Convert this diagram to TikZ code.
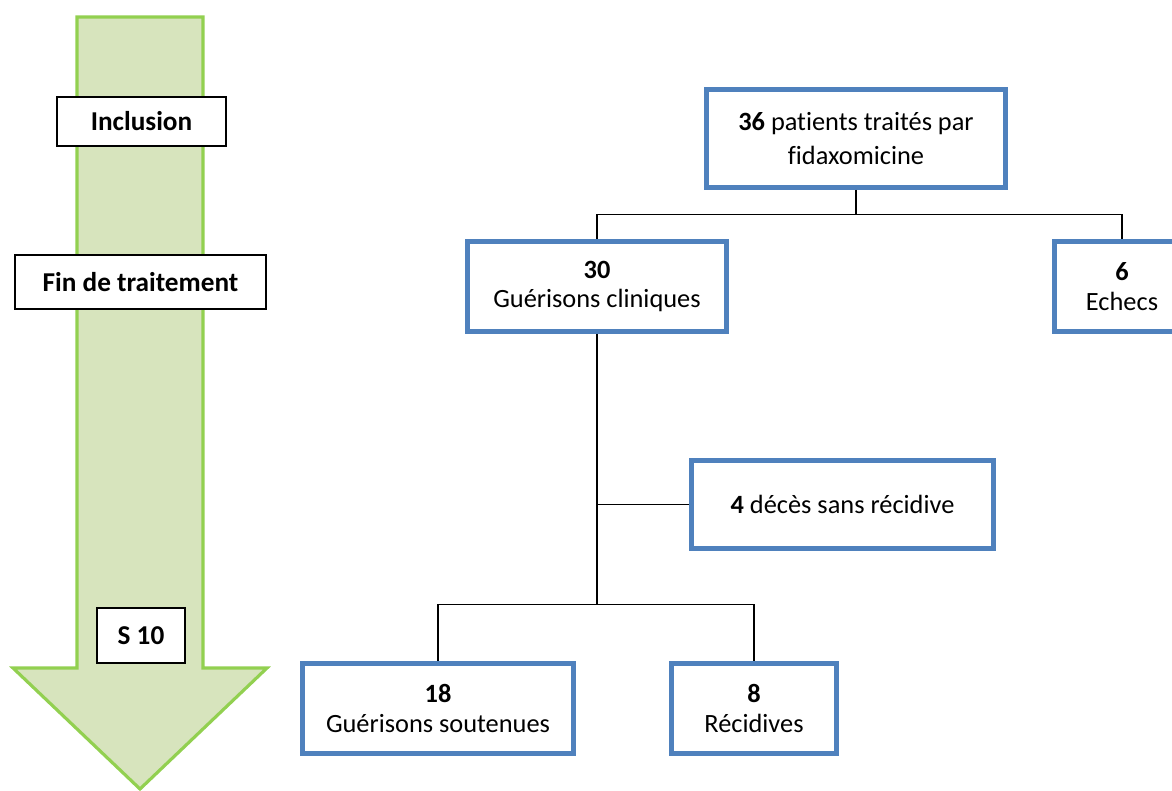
\documentclass[tikz,border=0pt]{standalone}
\usepackage{fontspec}
\setmainfont{Carlito}[Ligatures=NoCommon]
\usepackage{tikz}
\usetikzlibrary{positioning, calc}
\definecolor{boxblue}{RGB}{79,129,189}
\definecolor{arrgreen}{RGB}{146,208,80}
\definecolor{arrfill}{RGB}{215,228,189}
\tikzset{
  resbox/.style={rectangle, draw=boxblue, fill=white, line width=2.8pt,
    align=center, font=\fontsize{15}{17}\selectfont},
  timebox/.style={rectangle, draw=black, fill=white, line width=0.6pt,
    align=center, font=\fontsize{15.5}{17}\selectfont\bfseries},
  line/.style={line width=0.6pt, color=black}
}
\begin{document}
\begin{tikzpicture}
  \useasboundingbox (0,0) rectangle (23.44,15.82);
  % time arrow
  \draw[draw=arrgreen, fill=arrfill, line width=1.8pt, line join=miter]
    (1.54,15.48) -- (4.06,15.48) -- (4.06,2.46) -- (5.34,2.46) -- (2.80,0.04)
    -- (0.26,2.46) -- (1.54,2.46) -- cycle;
  \node[timebox, minimum width=3.38cm, minimum height=0.98cm] (incl) at (2.83,13.39) {Inclusion};
  \node[timebox, minimum width=5.02cm, minimum height=1.08cm] (fin) at (2.81,10.18) {Fin de traitement};
  \node[timebox, minimum width=1.76cm, minimum height=1.10cm] (s10) at (2.82,3.11) {S 10};

  % flow chart
  \node[resbox, minimum width=5.98cm, minimum height=1.96cm] (tot) at (17.12,13.05)
    {\textbf{36} patients traités par\\[2pt]fidaxomicine};
  \node[resbox, minimum width=5.18cm, minimum height=1.80cm] (cur) at (11.94,10.09)
    {\textbf{30}\\Guérisons cliniques};
  \node[resbox, minimum width=2.70cm, minimum height=1.80cm] (ech) at (22.44,10.09)
    {\textbf{6}\\Echecs};
  \node[resbox, minimum width=6.04cm, minimum height=1.76cm] (dec) at (16.85,5.73)
    {\textbf{4} décès sans récidive};
  \node[resbox, minimum width=5.42cm, minimum height=1.80cm] (sout) at (8.76,1.65)
    {\textbf{18}\\Guérisons soutenues};
  \node[resbox, minimum width=3.30cm, minimum height=1.80cm] (rec) at (15.08,1.65)
    {\textbf{8}\\Récidives};

  \draw[line] (tot.south) -- ++(0,-0.5) coordinate (top split);
  \draw[line] (top split) -| (cur.north);
  \draw[line] (top split) -| (ech.north);
  \draw[line] (cur.south) -- ++(0,-5.42) coordinate (low split);
  \draw[line] (dec.west) -- (dec.west -| cur.south);
  \draw[line] (low split) -| (sout.north);
  \draw[line] (low split) -| (rec.north);
\end{tikzpicture}
\end{document}
